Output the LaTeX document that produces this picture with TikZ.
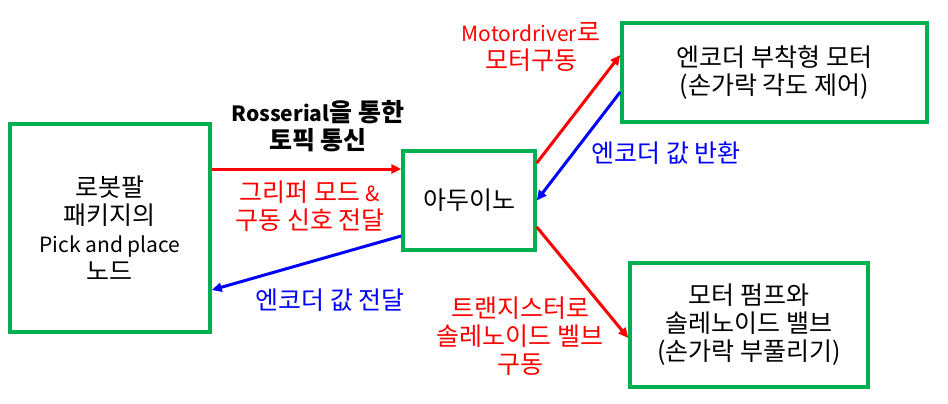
\documentclass[tikz,border=0pt]{standalone}
\usepackage{fontspec}
\setmainfont{Noto Sans CJK KR}
\usepackage{tikz}
\usetikzlibrary{arrows.meta}
\definecolor{boxgreen}{RGB}{0,176,80}
\newcommand\lat[1]{{\fontsize{21}{28}\selectfont #1}}

\begin{document}
\begin{tikzpicture}[x=1pt, y=-1pt,
  box/.style={draw=boxgreen, line width=3.5pt, fill=white, align=center, inner sep=0pt},
  sig/.style={line width=3pt, -{Triangle[length=10pt, width=9pt]}},
  lbl/.style={align=center, inner sep=0pt}]
\path (0,0) -- (948,404);
\fontsize{25}{28}\selectfont

\node[box, minimum width=200pt, minimum height=208pt] (robot) at (110,228) {로봇팔\\패키지의\\\lat{Pick and place}\\노드};
\node[box, minimum width=132pt, minimum height=99pt] (arduino) at (469,200.5) {아두이노};
\node[box, minimum width=305pt, minimum height=99pt] (motor) at (774.5,72.5) {엔코더 부착형 모터\\(손가락 각도 제어)};
\node[box, minimum width=238pt, minimum height=124pt] (pump) at (749,325) {모터 펌프와\\솔레노이드 밸브\\(손가락 부풀리기)};

\draw[sig, red] ([yshift=59pt]robot.east) -- ([yshift=31.5pt]arduino.west);
\draw[sig, blue] ([yshift=-35.5pt]arduino.west) -- ([yshift=-62pt]robot.east);
\draw[sig, red] ([yshift=37.5pt]arduino.east) -- ([yshift=17.5pt]motor.west);
\draw[sig, blue] ([yshift=-19.5pt]motor.west) -- (arduino.east);
\draw[sig, red] ([yshift=-26.5pt]arduino.east) -- ([yshift=-13pt]pump.west);

\node[lbl, font=\bfseries] (rosserial) at (318,126) {\lat{Rosserial}을 통한\\토픽 통신};
\node[lbl, red] (gripper) at (310,206) {그리퍼 모드 \lat{\&}\\구동 신호 전달};
\node[lbl, blue] (enc1) at (330,300) {엔코더 값 전달};
\node[lbl, red] (mdrv) at (531,47) {\lat{Motordriver}로\\모터구동};
\node[lbl, blue] (enc2) at (666,153) {엔코더 값 반환};
\node[lbl, red] (trans) at (520,336) {트랜지스터로\\솔레노이드 벨브\\구동};

\end{tikzpicture}
\end{document}
